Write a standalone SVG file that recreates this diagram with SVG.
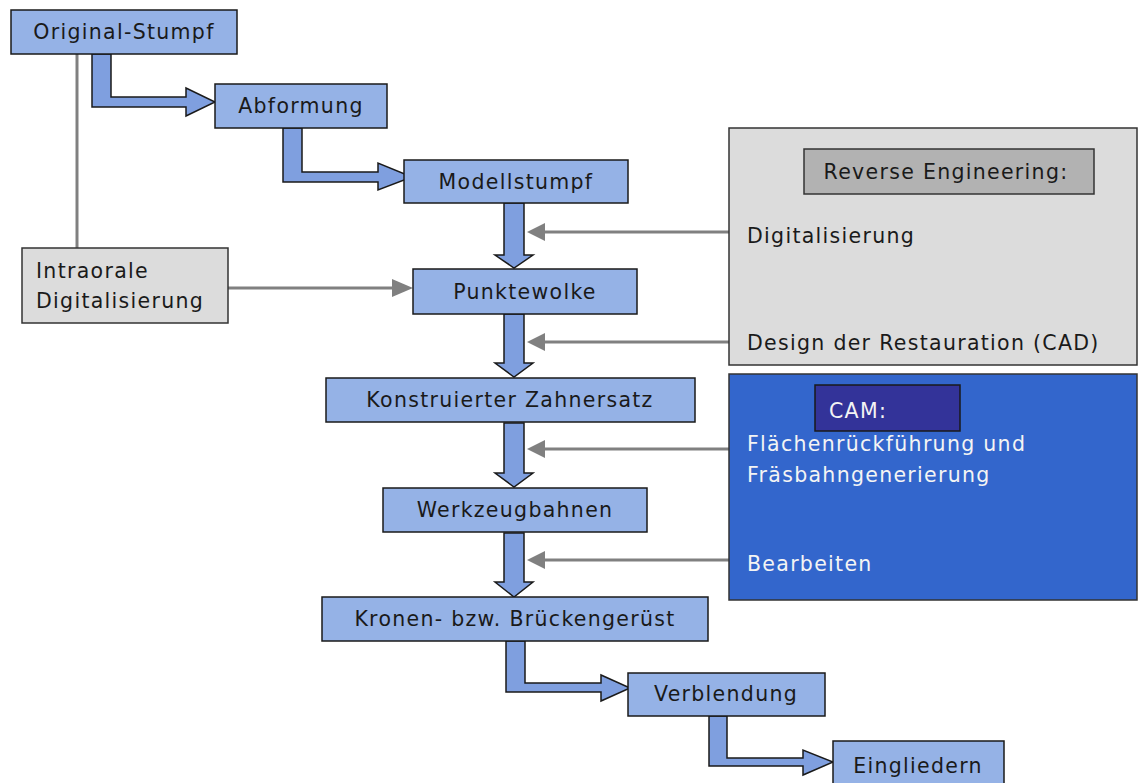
<svg xmlns="http://www.w3.org/2000/svg" width="1139" height="783" viewBox="0 0 1139 783">
<style>
.box{fill:#95b2e6;stroke:#1a1a1a;stroke-width:1.5}
.arr{fill:#7f9fdf;stroke:#1a1a1a;stroke-width:1.5;stroke-linejoin:miter}
.gbox{fill:#dcdcdc;stroke:#333;stroke-width:1.5}
.gl{stroke:#808080;stroke-width:3;fill:none}
.gh{fill:#808080}
text{font-family:"DejaVu Sans","Noto Sans",sans-serif;font-size:20.5px;letter-spacing:1.3px;fill:#1a1a1a}
.c{text-anchor:middle}
.w{fill:#f4f4f4}
</style>
<rect width="1139" height="783" fill="#fff"/>
<g id="connectors">
<line class="gl" x1="77" y1="54" x2="77" y2="248"/>
<line class="gl" x1="228" y1="288" x2="396" y2="288"/>
<polygon class="gh" points="413,288 392,279 392,297"/>
<line class="gl" x1="729" y1="232" x2="540" y2="232"/>
<polygon class="gh" points="527,232 545,223 545,241"/>
<line class="gl" x1="729" y1="342" x2="540" y2="342"/>
<polygon class="gh" points="527,342 545,333 545,351"/>
<line class="gl" x1="729" y1="449" x2="540" y2="449"/>
<polygon class="gh" points="527,449 545,440 545,458"/>
<line class="gl" x1="729" y1="560" x2="540" y2="560"/>
<polygon class="gh" points="527,560 545,551 545,569"/>
<polygon class="arr" points="92,54 111,54 111,97 186,97 186,88 215,102 186,116 186,107 92,107"/>
<polygon class="arr" points="283,128 302,128 302,172 378,172 378,163 412,177 378,190 378,182 283,182"/>
<polygon class="arr" points="506,641 525,641 525,683 601,683 601,675 630,688 601,701 601,692 506,692"/>
<polygon class="arr" points="709,716 727,716 727,758 803,758 803,750 833,762 803,775 803,766 709,766"/>
<polygon class="arr" points="504,203 524,203 524,255 533,255 514,268 495,255 504,255"/>
<polygon class="arr" points="504,314 524,314 524,363 533,363 514,377 495,363 504,363"/>
<polygon class="arr" points="504,423 524,423 524,473 533,473 514,487 495,473 504,473"/>
<polygon class="arr" points="504,533 524,533 524,582 533,582 514,597 495,582 504,582"/>
</g>
<g id="original-stumpf"><rect class="box" x="11" y="10" width="226" height="44"/><text class="c" x="124" y="39">Original-Stumpf</text></g>
<g id="abformung"><rect class="box" x="215" y="84" width="172" height="44"/><text class="c" x="301" y="113">Abformung</text></g>
<g id="modellstumpf"><rect class="box" x="404" y="160" width="224" height="43"/><text class="c" x="516" y="189">Modellstumpf</text></g>
<g id="punktewolke"><rect class="box" x="413" y="269" width="224" height="45"/><text class="c" x="525" y="299">Punktewolke</text></g>
<g id="konstruierter-zahnersatz"><rect class="box" x="326" y="378" width="369" height="44"/><text class="c" x="510" y="407">Konstruierter Zahnersatz</text></g>
<g id="werkzeugbahnen"><rect class="box" x="383" y="488" width="264" height="44"/><text class="c" x="515" y="517">Werkzeugbahnen</text></g>
<g id="kronen"><rect class="box" x="322" y="597" width="386" height="44"/><text class="c" x="515" y="626">Kronen- bzw. Brückengerüst</text></g>
<g id="verblendung"><rect class="box" x="628" y="673" width="197" height="43"/><text class="c" x="726" y="701">Verblendung</text></g>
<g id="eingliedern"><rect class="box" x="833" y="741" width="171" height="50"/><text class="c" x="918" y="773">Eingliedern</text></g>
<g id="intraorale"><rect class="gbox" x="22" y="248" width="206" height="75"/><text x="36" y="278">Intraorale</text><text x="36" y="308">Digitalisierung</text></g>
<g id="reverse-engineering">
<rect class="gbox" x="729" y="128" width="408" height="237"/>
<rect x="804" y="149" width="290" height="45" fill="#b2b2b2" stroke="#333" stroke-width="1.5"/>
<text class="c" x="946" y="179">Reverse Engineering:</text>
<text x="747" y="243">Digitalisierung</text>
<text x="747" y="350">Design der Restauration (CAD)</text>
</g>
<g id="cam">
<rect x="729" y="374" width="408" height="226" fill="#3366cc" stroke="#333" stroke-width="1.5"/>
<rect x="815" y="385" width="145" height="46" fill="#333399" stroke="#1a1a1a" stroke-width="1.5"/>
<text class="w" x="829" y="418">CAM:</text>
<text class="w" x="747" y="451">Flächenrückführung und</text>
<text class="w" x="747" y="482">Fräsbahngenerierung</text>
<text class="w" x="747" y="571">Bearbeiten</text>
</g>
</svg>
